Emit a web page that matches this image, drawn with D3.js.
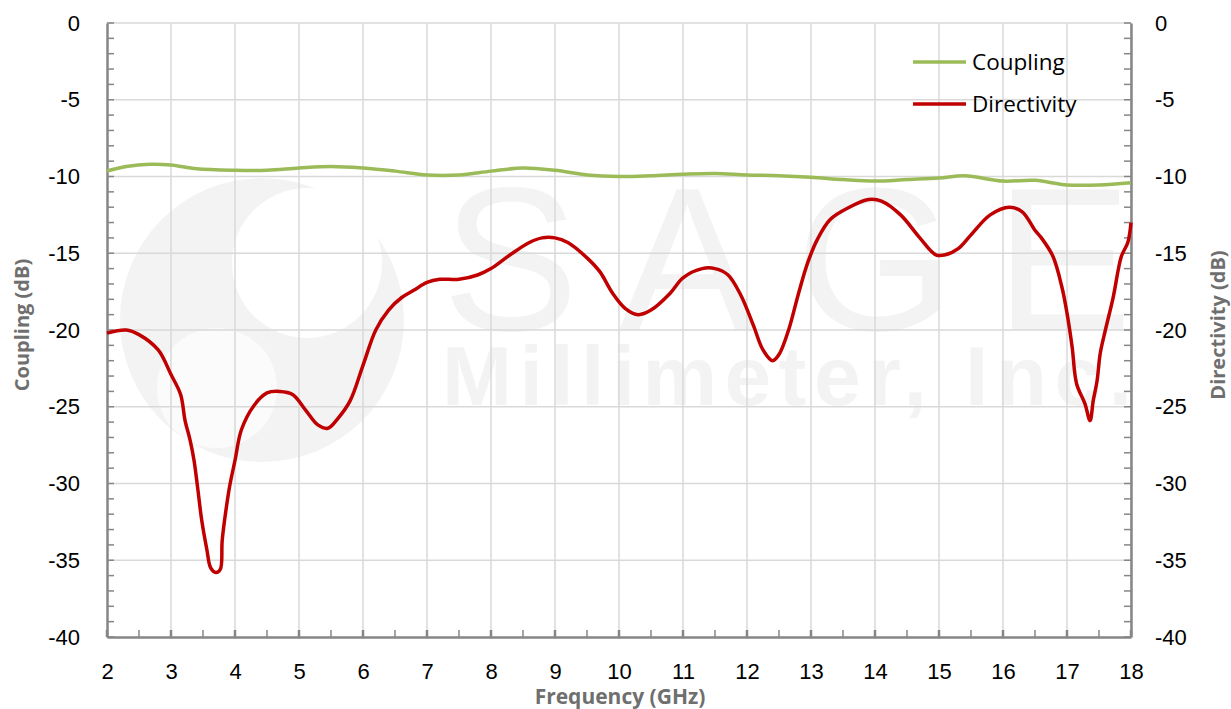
<!DOCTYPE html>
<html>
<head>
<meta charset="utf-8">
<script src="https://cdn.jsdelivr.net/npm/d3@7"></script>
<style>
  body { margin: 0; background: #fff; }
  svg { display: block; font-family: "Open Sans", "Noto Sans", sans-serif; }
</style>
</head>
<body>
<svg id="drawing_region"></svg>
<script>

// frequency (GHz) / coupling (dB)
const couplingFreq = [2, 2.3, 2.67, 3, 3.4, 4, 4.5, 5, 5.5, 6, 6.5, 7, 7.5, 8, 8.5, 9, 9.5, 10, 10.5, 11, 11.5, 12, 12.5, 13, 13.5, 14, 14.5, 15, 15.4, 16, 16.5, 17, 17.5, 18];
const couplingDb = [-9.64, -9.35, -9.2, -9.25, -9.5, -9.6, -9.6, -9.45, -9.35, -9.45, -9.65, -9.9, -9.9, -9.65, -9.45, -9.6, -9.9, -10.0, -9.95, -9.85, -9.8, -9.9, -9.95, -10.05, -10.2, -10.3, -10.2, -10.1, -9.95, -10.3, -10.25, -10.55, -10.55, -10.4];

// frequency (GHz) / directivity (dB)
const directFreq = [2, 2.3, 2.5, 2.8, 3.0, 3.15, 3.22, 3.3, 3.36, 3.42, 3.48, 3.56, 3.62, 3.7, 3.77, 3.8, 3.86, 3.92, 4.0, 4.1, 4.3, 4.5, 4.7, 4.9, 5.1, 5.3, 5.45, 5.6, 5.8, 6.0, 6.2, 6.4, 6.6, 6.8, 7.0, 7.2, 7.5, 7.8, 8.0, 8.3, 8.6, 8.8, 9.0, 9.2, 9.5, 9.7, 9.9, 10.1, 10.3, 10.5, 10.8, 11.0, 11.3, 11.5, 11.7, 11.9, 12.1, 12.25, 12.4, 12.5, 12.65, 12.8, 12.95, 13.1, 13.3, 13.6, 13.9, 14.1, 14.4, 14.7, 14.95, 15.1, 15.3, 15.5, 15.8, 16.1, 16.3, 16.5, 16.6, 16.78, 16.92, 17.0, 17.08, 17.15, 17.28, 17.36, 17.41, 17.47, 17.52, 17.6, 17.72, 17.85, 17.95, 18];
const directDb = [-20.2, -20.0, -20.3, -21.3, -22.9, -24.2, -25.9, -27.2, -28.5, -30.4, -32.4, -34.3, -35.5, -35.8, -35.6, -33.7, -31.7, -30.1, -28.5, -26.5, -24.9, -24.1, -24.0, -24.2, -25.2, -26.2, -26.4, -25.8, -24.6, -22.3, -20.0, -18.7, -17.9, -17.4, -16.9, -16.7, -16.7, -16.4, -16.0, -15.1, -14.3, -14.0, -14.0, -14.3, -15.3, -16.2, -17.6, -18.6, -19.0, -18.7, -17.6, -16.6, -16.0, -16.0, -16.4, -17.7, -19.7, -21.3, -22.0, -21.6, -20.0, -17.7, -15.6, -14.1, -12.8, -12.0, -11.5, -11.6, -12.5, -14.0, -15.1, -15.1, -14.7, -13.8, -12.5, -12.0, -12.3, -13.5, -14.0, -15.2, -17.2, -18.9, -21.1, -23.5, -24.8, -25.9, -24.6, -23.3, -21.5, -20.0, -17.9, -15.2, -14.3, -13.0];

const xTicks = d3.range(2, 19, 1);
const yTicks = [0, -5, -10, -15, -20, -25, -30, -35, -40];

const seriesNames = ['Coupling', 'Directivity'];
const seriesColors = ['#9bbb59', '#c00000'];

const width = 1231, height = 709;
const margin = {top: 23, right: 100, bottom: 72, left: 107};

const svg = d3.select('#drawing_region')
    .attr('width', width)
    .attr('height', height);

const innerW = width - margin.left - margin.right;
const innerH = height - margin.top - margin.bottom;

const xscale = d3.scaleLinear().domain([2, 18]).range([0, innerW]);
const yscale = d3.scaleLinear().domain([-40, 0]).range([innerH, 0]);

const chart = svg.append('g')
    .attr('transform', `translate(${margin.left}, ${margin.top})`);

// faint watermark
const wm = chart.append('g').attr('fill', '#f3f3f3');
wm.append('circle').attr('cx', 155).attr('cy', 297).attr('r', 142);
wm.append('circle').attr('cx', 200).attr('cy', 240).attr('r', 75).attr('fill', '#fff');
wm.append('circle').attr('cx', 110).attr('cy', 365).attr('r', 60).attr('fill', '#fbfbfb');
wm.append('text')
    .attr('x', 335).attr('y', 307)
    .attr('font-size', 205)
    .attr('textLength', 690)
    .attr('font-family', 'Liberation Sans, sans-serif')
    .text('SAGE');
wm.append('text')
    .attr('x', 335).attr('y', 382)
    .attr('font-size', 84)
    .attr('textLength', 690)
    .attr('font-weight', 'bold')
    .attr('font-family', 'Liberation Sans, sans-serif')
    .text('Millimeter, Inc.');

// gridlines
chart.append('g')
    .selectAll('line').data(xTicks.slice(1)).enter()
    .append('line')
    .attr('x1', d => xscale(d)).attr('x2', d => xscale(d))
    .attr('y1', 0).attr('y2', innerH)
    .attr('stroke', '#d9d9d9').attr('stroke-width', 1.5);

chart.append('g')
    .selectAll('line').data(yTicks.slice(0, -1)).enter()
    .append('line')
    .attr('x1', 0).attr('x2', innerW)
    .attr('y1', d => yscale(d)).attr('y2', d => yscale(d))
    .attr('stroke', '#d9d9d9').attr('stroke-width', 1.5);

// axes
const axisColor = '#868686';
const yMinor = d3.range(-40, 1, 1);
const xMinor = d3.range(2, 18.01, 0.5);
const plain = d => String(d);

const leftAxis = chart.append('g')
    .call(d3.axisLeft(yscale).tickValues(yTicks).tickFormat(plain).tickSize(0).tickPadding(27));
const rightAxis = chart.append('g')
    .attr('transform', `translate(${innerW}, 0)`)
    .call(d3.axisRight(yscale).tickValues(yTicks).tickFormat(plain).tickSize(0).tickPadding(24));
const bottomAxis = chart.append('g')
    .attr('transform', `translate(0, ${innerH})`)
    .call(d3.axisBottom(xscale).tickValues(xTicks).tickFormat(plain).tickSize(0).tickPadding(42));

[leftAxis, rightAxis, bottomAxis].forEach(g => {
    g.select('.domain').attr('stroke', axisColor).attr('stroke-width', 2.5);
    g.selectAll('text').attr('font-size', 22).attr('fill', '#000');
});
bottomAxis.selectAll('text').attr('dy', 0);

chart.append('g').selectAll('line').data(yMinor).enter()
    .append('line')
    .attr('x1', 0).attr('x2', 7)
    .attr('y1', d => yscale(d)).attr('y2', d => yscale(d))
    .attr('stroke', axisColor).attr('stroke-width', 1.5);
chart.append('g').selectAll('line').data(yMinor).enter()
    .append('line')
    .attr('x1', innerW - 7).attr('x2', innerW)
    .attr('y1', d => yscale(d)).attr('y2', d => yscale(d))
    .attr('stroke', axisColor).attr('stroke-width', 1.5);
chart.append('g').selectAll('line').data(xMinor).enter()
    .append('line')
    .attr('x1', d => xscale(d)).attr('x2', d => xscale(d))
    .attr('y1', innerH).attr('y2', innerH - 7)
    .attr('stroke', axisColor).attr('stroke-width', d => d % 1 === 0 ? 2.5 : 1.5);

// axis titles
const titleStyle = sel => sel.attr('font-size', 20).attr('font-weight', 'bold')
    .attr('fill', '#6f6f6f').attr('text-anchor', 'middle');

chart.append('text')
    .attr('transform', `translate(-78, 302) rotate(-90)`)
    .call(titleStyle)
    .text('Coupling (dB)');
chart.append('text')
    .attr('transform', `translate(${innerW + 94}, 302) rotate(-90)`)
    .call(titleStyle)
    .text('Directivity (dB)');
chart.append('text')
    .attr('x', innerW / 2 + 1).attr('y', innerH + 67)
    .call(titleStyle)
    .attr('font-size', 21)
    .text('Frequency (GHz)');

// lines
const line = d3.line()
    .x(d => xscale(d[0]))
    .y(d => yscale(d[1]))
    .curve(d3.curveCatmullRom.alpha(0.5));

const series = [
    d3.zip(couplingFreq, couplingDb),
    d3.zip(directFreq, directDb)
];

chart.selectAll('path.series').data(series).enter()
    .append('path')
    .attr('class', 'series')
    .attr('d', line)
    .attr('fill', 'none')
    .attr('stroke', (d, i) => seriesColors[i])
    .attr('stroke-width', 3.5)
    .attr('stroke-linejoin', 'round');

// legend
const legend = chart.append('g')
    .attr('transform', `translate(806, 39)`);
const item = legend.selectAll('g').data(seriesNames).enter()
    .append('g')
    .attr('transform', (d, i) => `translate(0, ${i * 42})`);
item.append('line')
    .attr('x1', 0).attr('x2', 53)
    .attr('stroke', (d, i) => seriesColors[i])
    .attr('stroke-width', 3.5);
item.append('text')
    .attr('x', 59).attr('y', 8)
    .attr('font-size', 22.5)
    .text(d => d);

</script>
</body>
</html>
